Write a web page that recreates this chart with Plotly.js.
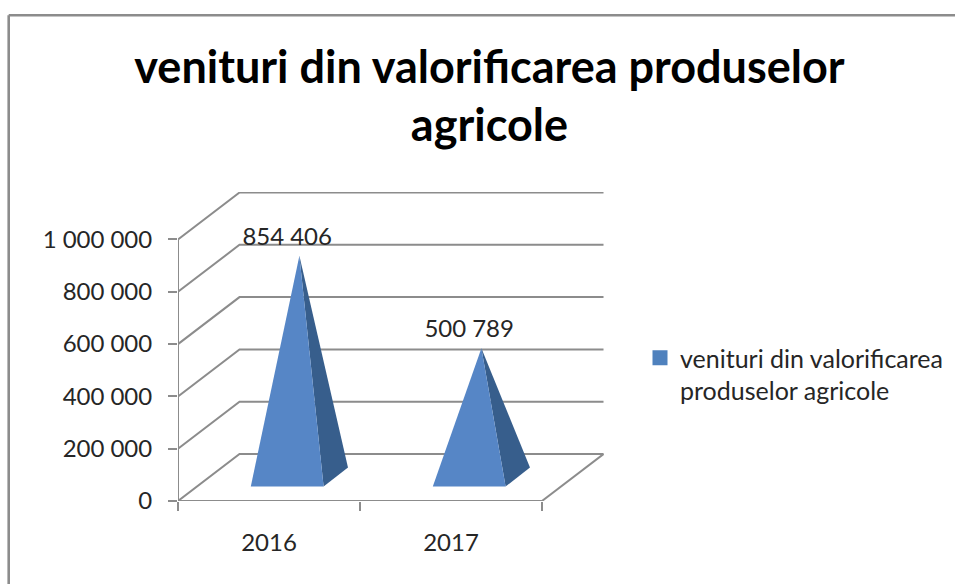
<!DOCTYPE html>
<html>
<head>
<meta charset="utf-8">
<script src="https://cdn.plot.ly/plotly-3.0.1.min.js"></script>
<style>html,body{margin:0;padding:0;background:#fff;overflow:hidden}</style>
</head>
<body>
<div id="chart" style="width:955px;height:584px"></div>
<script>
const chartTitle = 'venituri din valorificarea produselor<br>agricole';
const seriesName = '&nbsp;<br>venituri din valorificarea<br>produselor agricole';
const categories = ['2016', '2017'];
const values = [854406, 500789];
const yTicks = [0, 200000, 400000, 600000, 800000, 1000000];

// oblique projection of the chart's 3D box, in axis units
const depthX = 0.338, depthY = 179700;
const xMax = 2.3407, yMax = 1181600;
const barFront = 0.4, barWidth = 0.4;
const barDepthX = 0.134, barFrontY = 55400, barDepthY = 72700, apexDrop = 8000;

const gridX = [], gridY = [];
yTicks.forEach(v => {
  gridX.push(0, depthX, categories.length + depthX, null);
  gridY.push(v, v + depthY, v + depthY, null);
});
// floor front and right edges
gridX.push(categories.length, categories.length + depthX, null);
gridY.push(0, depthY, null);

const lineColor = '#8c8c8c';
const frontColor = '#5686c6', sideColor = '#375e8c', swatch = '#4f81bd';
const textColor = '#262626';
const font = 'Lato, Carlito, sans-serif';

const traces = [
  {x: gridX, y: gridY, mode: 'lines', line: {color: lineColor, width: 2}, hoverinfo: 'skip', showlegend: false, cliponaxis: false},
  {x: [0, 0, null, 0, categories.length], y: [0, yTicks[yTicks.length - 1], null, 0, 0], mode: 'lines',
   line: {color: lineColor, width: 2}, hoverinfo: 'skip', showlegend: false, cliponaxis: false}
];

categories.forEach((c, i) => {
  const x0 = i + barFront, x1 = x0 + barWidth;
  const ax = x0 + barWidth / 2 + barDepthX / 2;
  const ay = barFrontY + barDepthY / 2 - apexDrop + values[i];
  traces.push({
    x: [x1, x1 + barDepthX, ax, x1], y: [barFrontY, barFrontY + barDepthY, ay, barFrontY],
    mode: 'lines', fill: 'toself', fillcolor: sideColor, line: {width: 0}, hoverinfo: 'skip', showlegend: false
  });
  traces.push({
    x: [x0, x1, ax, x0], y: [barFrontY, barFrontY, ay, barFrontY],
    mode: 'lines', fill: 'toself', fillcolor: frontColor, line: {width: 0},
    name: c, hoverinfo: 'skip', showlegend: false
  });
});

// value labels
traces.push({
  x: categories.map((c, i) => i + barFront + barWidth / 2),
  y: values.map(v => v + 148000),
  text: values.map(v => String(v).replace(/\B(?=(\d{3})+$)/g, '\u2005')),
  mode: 'text', textposition: 'middle center',
  textfont: {family: font, size: 24, color: textColor},
  hoverinfo: 'skip', showlegend: false, cliponaxis: false
});

// legend entry
traces.push({
  x: [null], y: [null], mode: 'markers', name: seriesName,
  marker: {symbol: 'square', size: 15, color: swatch}
});

const px = v => (v - 178) / 426, py = v => (501 - v) / 309;
const layout = {
  width: 955, height: 584,
  margin: {l: 178, r: 351, t: 192, b: 83, pad: 0, autoexpand: false},
  paper_bgcolor: '#fff', plot_bgcolor: 'rgba(0,0,0,0)',
  font: {family: font, color: textColor},
  title: {
    text: chartTitle, font: {family: font, size: 45, color: '#000', weight: 700},
    xref: 'container', yref: 'container', x: 0.5125, xanchor: 'center', y: 0.858, yanchor: 'middle'
  },
  xaxis: {
    range: [0, xMax], showgrid: false, zeroline: false, showline: false,
    tickmode: 'array', tickvals: categories.map((c, i) => i + 0.5), ticktext: categories,
    ticks: '', ticklabelstandoff: 25, tickfont: {family: font, size: 24, color: textColor},
    minor: {tickmode: 'array', tickvals: [0, 1, 2], ticks: 'outside', ticklen: 9, tickwidth: 2, tickcolor: lineColor, showgrid: false}
  },
  yaxis: {
    range: [0, yMax], showgrid: false, zeroline: false, showline: false,
    tickmode: 'array', tickvals: yTicks, tickformat: ',d',
    ticks: 'outside', ticklen: 9, tickwidth: 2, tickcolor: lineColor,
    ticklabelstandoff: 11, tickfont: {family: font, size: 24, color: textColor}
  },
  separators: '.\u2005',
  showlegend: true,
  legend: {
    x: px(640), xanchor: 'left', y: py(358), yanchor: 'middle',
    font: {family: font, size: 25, color: textColor}, bgcolor: 'rgba(0,0,0,0)',
    itemclick: false, itemdoubleclick: false
  },
  shapes: [
    {type: 'line', xref: 'paper', yref: 'paper', x0: px(8.7), x1: px(8.7), y0: py(15.3), y1: py(584), line: {color: lineColor, width: 2.6}},
    {type: 'line', xref: 'paper', yref: 'paper', x0: px(8.7), x1: px(955), y0: py(15.3), y1: py(15.3), line: {color: lineColor, width: 2.6}}
  ]
};
Plotly.newPlot('chart', traces, layout, {displayModeBar: false, staticPlot: true});
</script>
</body>
</html>
